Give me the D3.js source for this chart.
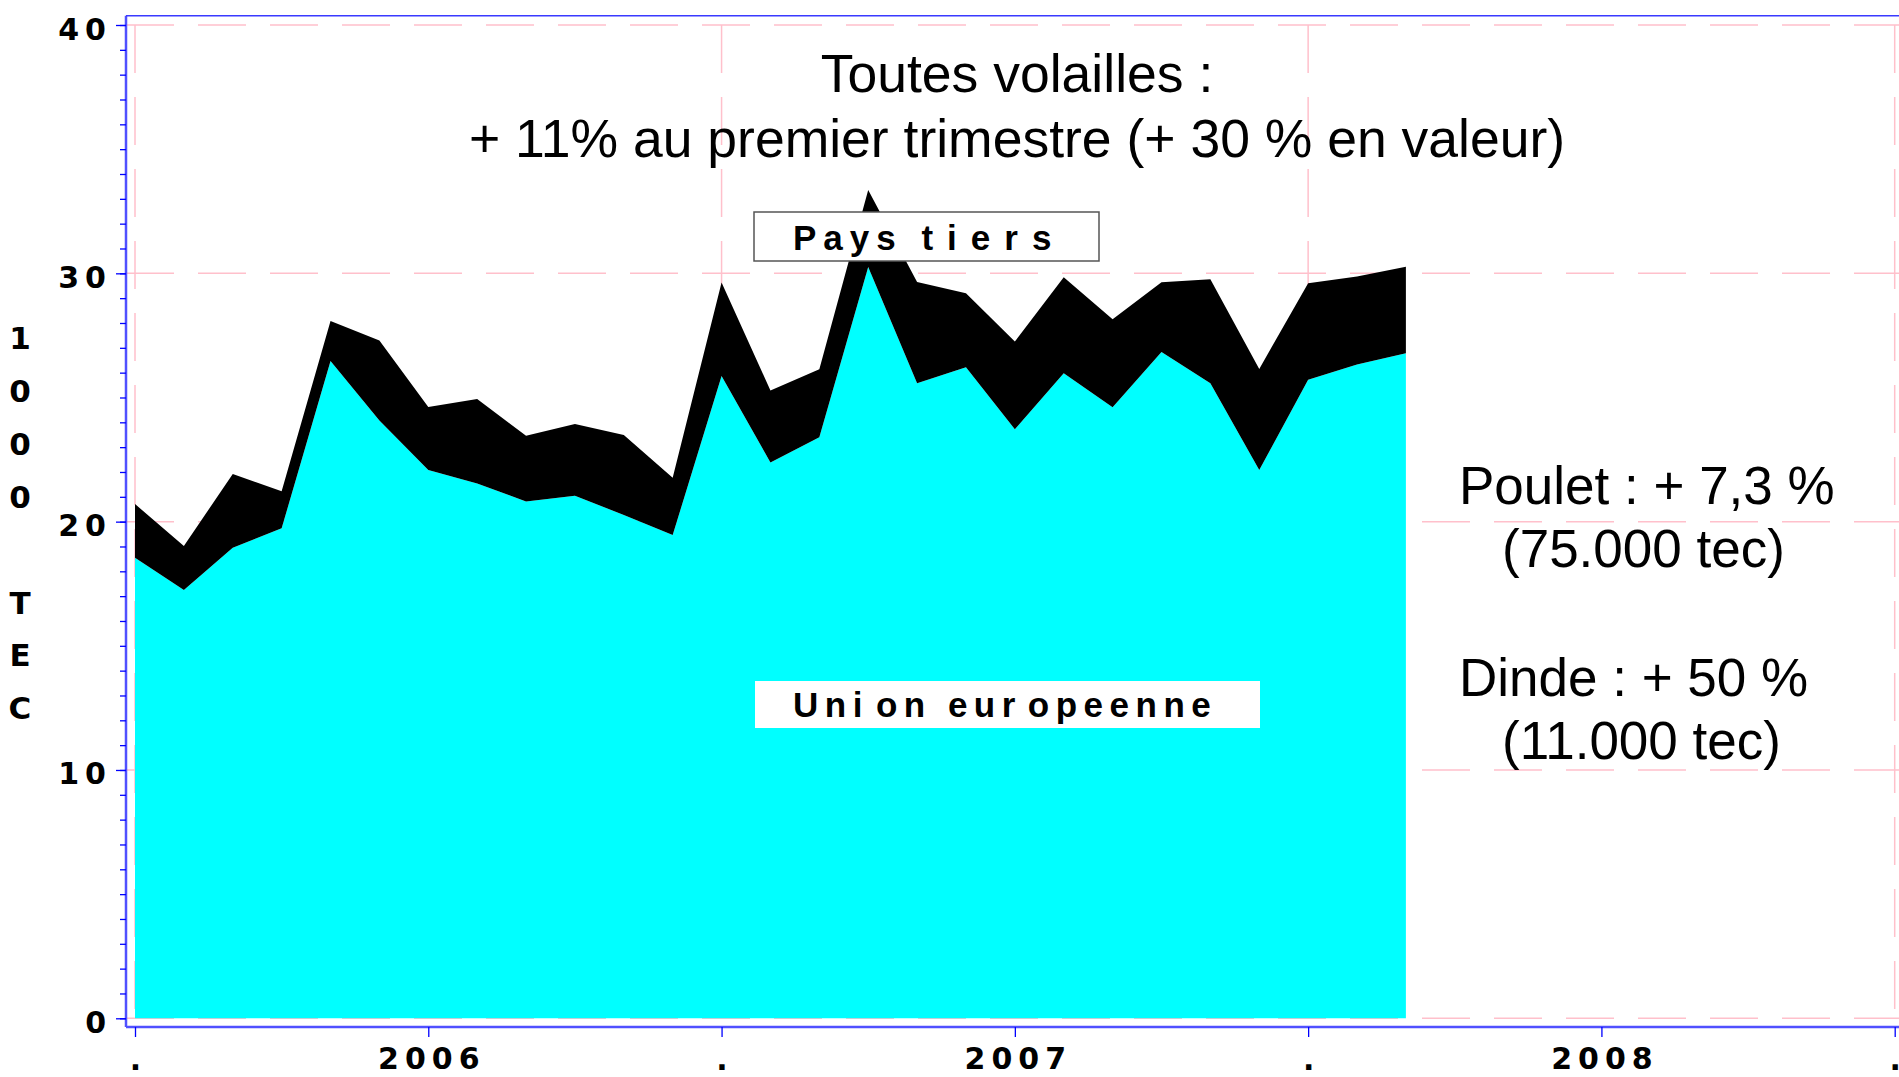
<!DOCTYPE html>
<html><head><meta charset="utf-8">
<script src="https://cdn.jsdelivr.net/npm/d3@7"></script>
<style>html,body{margin:0;padding:0;background:#fff;overflow:hidden}</style>
</head><body>
<svg id="c" width="1899" height="1077"></svg>
<script>
// ---- data ----
const months = ["2006-01","2006-02","2006-03","2006-04","2006-05","2006-06","2006-07","2006-08","2006-09","2006-10","2006-11","2006-12",
  "2007-01","2007-02","2007-03","2007-04","2007-05","2007-06","2007-07","2007-08","2007-09","2007-10","2007-11","2007-12",
  "2008-01","2008-02","2008-03"];
const ue = [18.55,17.25,18.95,19.73,26.47,24.07,22.08,21.54,20.81,21.04,20.27,19.46,
  25.87,22.38,23.40,30.25,25.57,26.22,23.72,25.98,24.61,26.83,25.57,22.08,
  25.71,26.33,26.78];
const paysTiers = [2.16,1.77,2.97,1.49,1.61,3.22,2.54,3.40,2.65,2.89,3.22,2.31,
  3.76,2.90,2.74,3.11,4.08,2.98,3.53,3.86,3.54,2.81,4.19,4.07,
  3.89,3.54,3.48];
const xTickValues = [0,6,12,18,24,30,36];           // months since Jan 2006
const xTickLabels = [".","2006",".","2007",".","2008","."];
const xGridValues = [0,12,24,36];
const yMajorTicks = [0,10,20,30,40];
const yMinorTicks = d3.range(0,41);
const yAxisLabel = ["1","0","0","0","","T","E","C"];
const titleLines = ["Toutes volailles :","+ 11% au premier trimestre (+ 30 % en valeur)"];
const noteLines = ["Poulet : + 7,3 %","(75.000 tec)","Dinde : + 50 %","(11.000 tec)"];
const labelPays = ["Pays","tiers"];
const labelUE = ["Uni","on","eur","opeenne"];

// ---- layout ----
const svg = d3.select("#c");
const W = 1899;
const x = d3.scaleLinear().domain([0,36]).range([135,1894.7]);
const y = d3.scaleLinear().domain([0,40]).range([1018.3,25]);
const frameTop = 15.7, frameBottom = 1027, frameLeft = 126;
const blue = "#0000ff", pink = "#ffc0cb";
const boldFont = "'DejaVu Sans', sans-serif";
const arial = "'Liberation Sans', Arial, sans-serif";

// grid
const grid = svg.append("g");
grid.selectAll("line.h").data(yMajorTicks).join("line")
  .attr("x1",frameLeft).attr("x2",W).attr("y1",d=>y(d)).attr("y2",d=>y(d))
  .attr("stroke",pink).attr("stroke-width",1.5).attr("stroke-dasharray","48,24");
grid.selectAll("line.v").data(xGridValues).join("line")
  .attr("x1",d=>x(d)).attr("x2",d=>x(d)).attr("y1",y(40)).attr("y2",frameBottom)
  .attr("stroke",pink).attr("stroke-width",1.5).attr("stroke-dasharray","48,24");

// stacked areas
const table = months.map((m,i)=>({i, ue:ue[i], paysTiers:paysTiers[i]}));
const stack = d3.stack().keys(["ue","paysTiers"])(table);
const area = d3.area().x(d=>x(d.data.i)).y0(d=>y(d[0])).y1(d=>y(d[1]));
const colors = {ue:"#00ffff", paysTiers:"#000000"};
svg.append("g").selectAll("path").data(stack).join("path")
  .attr("d",area).attr("fill",d=>colors[d.key]);

// frame lines
svg.append("line").attr("x1",frameLeft).attr("x2",frameLeft).attr("y1",frameTop).attr("y2",frameBottom)
  .attr("stroke","#5050ff").attr("stroke-width",2.5);
svg.append("line").attr("x1",frameLeft).attr("x2",W).attr("y1",frameTop).attr("y2",frameTop)
  .attr("stroke","#3a3aff").attr("stroke-width",1.5);
svg.append("line").attr("x1",frameLeft).attr("x2",W).attr("y1",frameBottom).attr("y2",frameBottom)
  .attr("stroke","#5050ff").attr("stroke-width",2.5);

// y axis minor ticks
const yMinor = svg.append("g").attr("transform",`translate(${frameLeft},0)`)
  .call(d3.axisLeft(y).tickValues(yMinorTicks).tickSize(6).tickFormat(""));
yMinor.select(".domain").remove();
yMinor.selectAll("line").attr("stroke",blue).attr("stroke-width",1.3);
// y axis major ticks + labels
const yMajor = svg.append("g").attr("transform",`translate(${frameLeft},0)`)
  .call(d3.axisLeft(y).tickValues(yMajorTicks).tickSize(10).tickPadding(4).tickFormat(d3.format("d")));
yMajor.select(".domain").remove();
yMajor.selectAll("line").attr("stroke",blue).attr("stroke-width",1.3);
yMajor.selectAll("text").attr("dy",14).attr("fill","#000")
  .style("font-family",boldFont).style("font-weight","bold").style("font-size","30px")
  .style("letter-spacing","6px");

// x axis
const xAxis = svg.append("g").attr("transform",`translate(0,${frameBottom})`)
  .call(d3.axisBottom(x).tickValues(xTickValues).tickSize(10).tickFormat((d,i)=>xTickLabels[i]));
xAxis.select(".domain").remove();
xAxis.selectAll("line").attr("stroke",blue).attr("stroke-width",1.3);
xAxis.selectAll("text").attr("dy",0).attr("y",(d,i)=>xTickLabels[i]==="."?43:42).attr("dx",3).attr("fill","#000")
  .style("font-family",boldFont).style("font-weight","bold").style("font-size","30px")
  .style("letter-spacing","6px");

// vertical y-axis title
svg.append("g").selectAll("text").data(yAxisLabel).join("text")
  .attr("x",20).attr("y",(d,i)=>349+i*52.9).attr("text-anchor","middle")
  .style("font-family",boldFont).style("font-weight","bold").style("font-size","31px")
  .text(d=>d);

// title
svg.append("g").selectAll("text").data(titleLines).join("text")
  .attr("x",1017).attr("y",(d,i)=>92+i*65).attr("text-anchor","middle")
  .style("font-family",arial).style("font-size","53.5px").text(d=>d);

// notes on the right
const noteX = [1459,1502,1459,1502], noteY = [504,567,696,759];
svg.append("g").selectAll("text").data(noteLines).join("text")
  .attr("x",(d,i)=>noteX[i]).attr("y",(d,i)=>noteY[i])
  .style("font-family",arial).style("font-size","53px").text(d=>d);

// series labels
svg.append("rect").attr("x",754).attr("y",212).attr("width",345).attr("height",49)
  .attr("fill","#fff").attr("stroke","#555").attr("stroke-width",1.5);
const tp = svg.append("text").attr("x",793).attr("y",250)
  .style("font-family",arial).style("font-weight","bold").style("font-size","35px");
tp.append("tspan").style("letter-spacing","7px").text(labelPays[0]+" ");
tp.append("tspan").attr("dx",2).style("letter-spacing","14px").text(labelPays[1]);

svg.append("rect").attr("x",755).attr("y",681).attr("width",505).attr("height",47).attr("fill","#fff");
const tu = svg.append("text").attr("x",793).attr("y",717)
  .style("font-family",arial).style("font-weight","bold").style("font-size","35px").style("letter-spacing","6.5px");
tu.append("tspan").text(labelUE[0]);
tu.append("tspan").attr("dx",7).text(labelUE[1]+" ");
tu.append("tspan").text(labelUE[2]);
tu.append("tspan").attr("dx",6).text(labelUE[3]);
</script>
</body></html>
